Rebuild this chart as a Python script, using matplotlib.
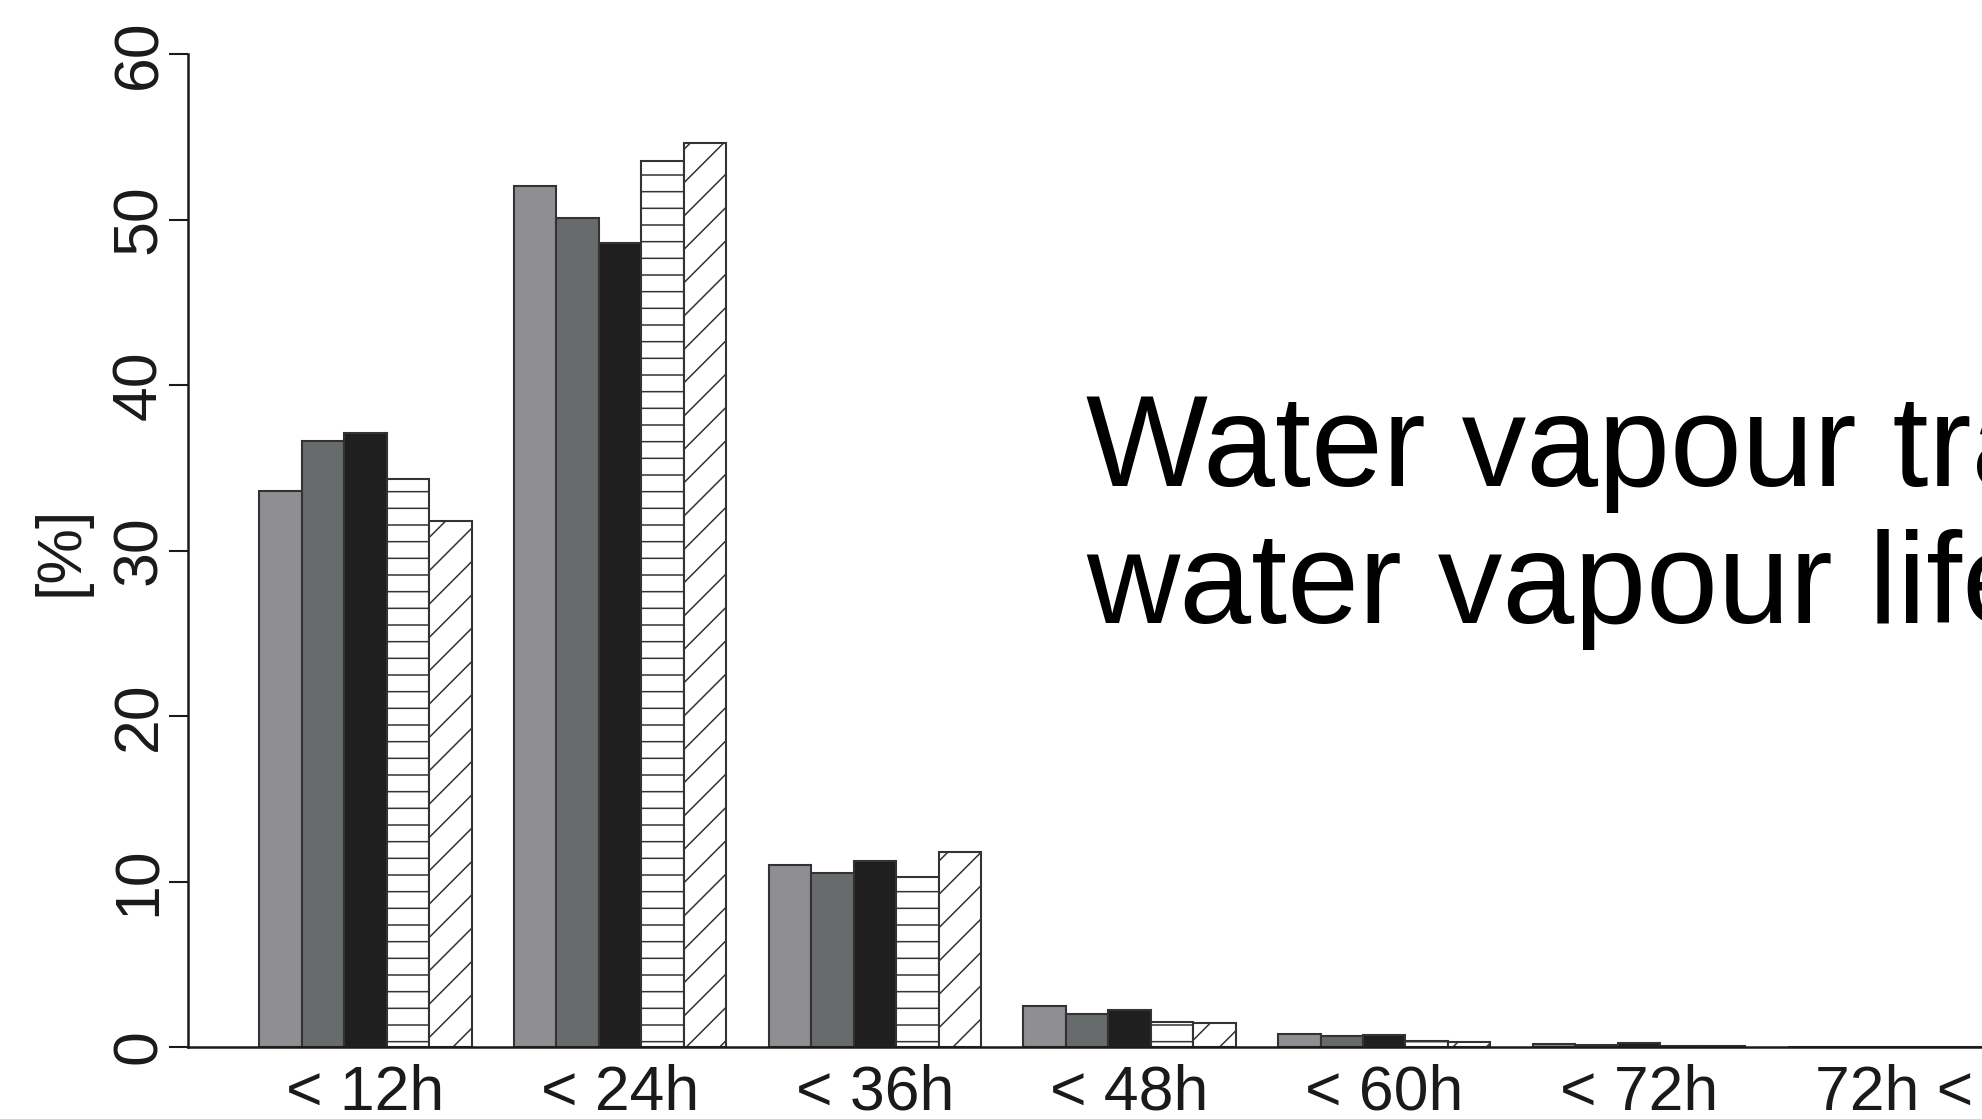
import matplotlib
matplotlib.use('Agg')
import matplotlib.pyplot as plt

categories = ['< 12h', '< 24h', '< 36h', '< 48h', '< 60h', '< 72h', '72h <']

# five series, one value per category (percent)
series_1 = [33.6, 52.0, 11.0, 2.48, 0.77, 0.20, 0.03]
series_2 = [36.6, 50.1, 10.5, 1.97, 0.66, 0.15, 0.03]
series_3 = [37.1, 48.6, 11.25, 2.24, 0.72, 0.22, 0.03]
series_4 = [34.3, 53.55, 10.26, 1.53, 0.38, 0.08, 0.02]
series_5 = [31.8, 54.6, 11.8, 1.43, 0.32, 0.08, 0.02]

y_ticks = [0, 10, 20, 30, 40, 50, 60]

all_series = [series_1, series_2, series_3, series_4, series_5]
faces = ['#8f8f93', '#676b6b', '#1f1f1f', 'white', 'white']
hatches = [None, None, None, '-', '/']
edge = '#333333'

plt.rcParams['font.family'] = ['Liberation Sans', 'DejaVu Sans']
plt.rcParams['hatch.linewidth'] = 1.1

W, H = 1982, 1119
fig = plt.figure(figsize=(W / 100, H / 100), dpi=100)

# axes box in pixels: y axis at x=188, zero line at y=1047, 60 at y=54
left_px, right_px, bottom_px, top_px = 188, W, 1047, 54
ax = fig.add_axes([left_px / W, 1 - bottom_px / H,
                   (right_px - left_px) / W, (bottom_px - top_px) / H])

n = len(all_series)
group = n + 1
for j, vals in enumerate(all_series):
    xs = [1 + group * g + j for g in range(len(categories))]
    ax.bar(xs, vals, width=1, align='edge', color=faces[j],
           edgecolor=edge, linewidth=1.5, hatch=hatches[j])

unit = 42.45
ax.set_xlim(1 + (left_px - 259.3) / unit, 1 + (right_px - 259.3) / unit)
ax.set_ylim(0, 60)

centers = [1 + group * g + n / 2 for g in range(len(categories))]
ax.set_xticks(centers)
ax.set_xticklabels(categories, fontsize=45)
ax.tick_params(axis='x', length=0, pad=12, colors='#1a1a1a')

ax.set_yticks(y_ticks)
ax.set_yticklabels([str(t) for t in y_ticks], fontsize=45, rotation=90, va='center')
ax.tick_params(axis='y', length=13.7, width=1.5, pad=0, colors='#1a1a1a')

for s in ['top', 'right']:
    ax.spines[s].set_visible(False)
ax.spines['left'].set_bounds(0, 60)
ax.spines['left'].set_linewidth(1.8)
ax.spines['bottom'].set_linewidth(1.8)
ax.spines['left'].set_color('#1a1a1a')
ax.spines['bottom'].set_color('#1a1a1a')

fig.text(61 / W, 1 - 551 / H, '[%]', rotation=90, ha='center', va='center',
         fontsize=45, color='#1a1a1a')

# overlay title text (runs off the right edge as in the original)
fig.text(1086 / W, 1 - 486 / H, 'Water vapour transport', fontsize=93,
         va='baseline', ha='left', color='black')
fig.text(1086 / W, 1 - 623 / H, 'water vapour lifetime', fontsize=93,
         va='baseline', ha='left', color='black')

fig.savefig('out.png', dpi=100)
